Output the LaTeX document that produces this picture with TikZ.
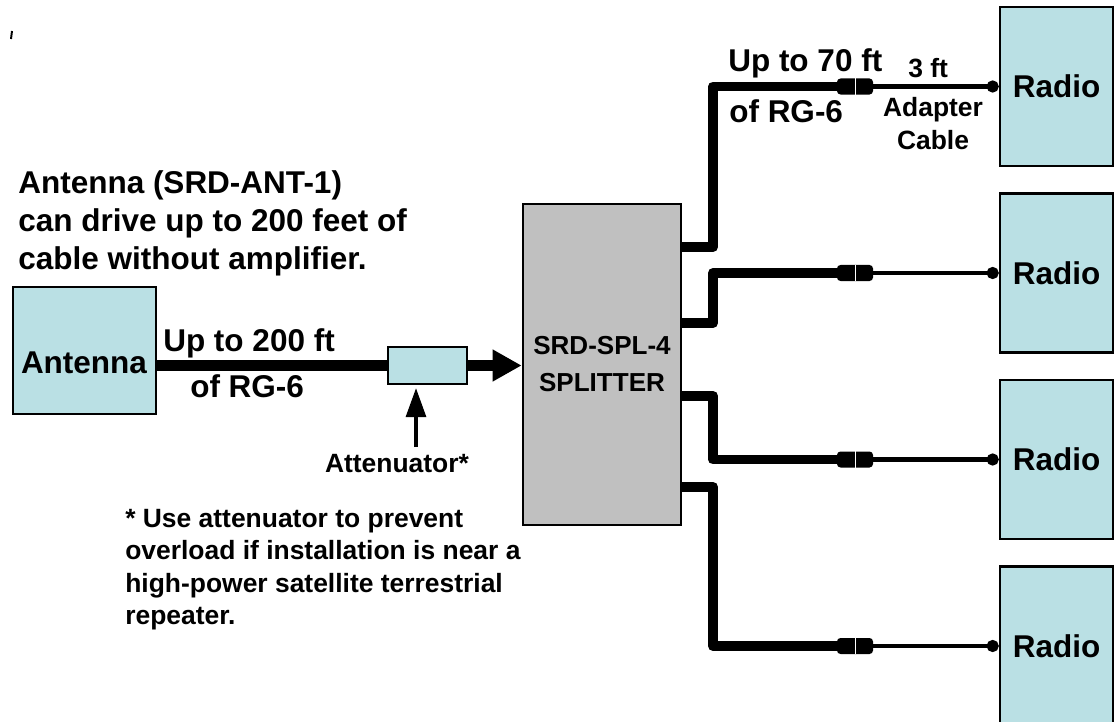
\documentclass[tikz,border=0pt]{standalone}
\usepackage{fontspec}
\setmainfont{Liberation Sans}
\usetikzlibrary{arrows.meta}
\definecolor{srd-blue}{RGB}{186,224,228}
\definecolor{srd-gray}{RGB}{192,192,192}
\newcommand{\bigtext}{\fontsize{22.4}{27}\selectfont\bfseries}
\newcommand{\smalltext}{\fontsize{18.8}{23}\selectfont\bfseries}

\begin{document}
\begin{tikzpicture}[x=0.025cm, y=-0.025cm,
    unit/.style={draw, line width=1.9pt, inner sep=0},
    cable/.style={line width=7.1pt, line join=round},
    lead/.style={line width=3.4pt, -{Circle[length=8.5pt, width=8.5pt]}},
    plug/.style={fill=black, rounded corners=2.5pt, minimum width=0.9cm,
        minimum height=0.4cm, inner sep=0},
    big/.style={font=\bigtext, inner sep=0},
    small/.style={font=\smalltext, inner sep=0}]

    \useasboundingbox (0,0) rectangle (1116,722);
    \clip (0,0) rectangle (1116,722);

    \draw[line width=1.4pt] (11,39) -- (12,31);

    % Antenna and feed cable
    \node[big, anchor=north west, align=left] (note) at (18,170.5)
        {Antenna (SRD-ANT-1)\\can drive up to 200 feet of\\cable without amplifier.};
    \node[unit, fill=srd-blue, minimum width=3.575cm, minimum height=3.175cm]
        (antenna) at (84.5,350.5) {};
    \node[big, anchor=base] (antname) at (84,373) {Antenna};
    \node[unit, fill=srd-blue, minimum width=1.975cm, minimum height=0.925cm]
        (atten) at (427.5,365.5) {};
    \node[unit, fill=srd-gray, minimum width=3.95cm, minimum height=8.025cm,
        align=center, font={\fontsize{18.5}{26.3}\selectfont\bfseries}]
        (splitter) at (602,364.5) {SRD-SPL-4\\SPLITTER};

    \draw[line width=8pt] (antenna.east |- atten.west) -- (atten.west);
    \draw[line width=8pt, -{Triangle[length=20.6pt, width=21.3pt]}]
        (atten.east) -- (splitter.west |- atten.east);
    \node[big, anchor=base west] (feedlen) at (163,351) {Up to 200 ft};
    \node[big, anchor=base west] (feedtype) at (190,397.5) {of RG-6};

    % Attenuator note
    \node[small, anchor=base] (attlabel) at (397,472) {Attenuator*};
    \coordinate (attfoot) at (416,447);
    \draw[line width=2.3pt, shorten >=2pt, -{Triangle[length=20.6pt, width=14.2pt]}]
        (attfoot) -- (attfoot |- atten.south);
    \node[small, anchor=north west, align=left] (footnote) at (125,509)
        {* Use attenuator to prevent\\overload if installation is near a\\high-power satellite terrestrial\\repeater.};

    % Radios
    \foreach \i/\y in {1/86.5, 2/273, 3/459.5, 4/646} {
        \node[unit, fill=srd-blue, minimum width=2.825cm, minimum height=3.975cm,
            font=\bigtext] (radio\i) at (1056.5,\y) {Radio};
        \node[plug] (plug\i) at (855,\y) {};
    }
    \foreach \i/\s in {1/247, 2/323, 3/396, 4/487}
        \coordinate (tap\i) at (713,\s);

    % Splitter outputs
    \foreach \i in {1,...,4} {
        \draw[cable] (splitter.east |- tap\i) -- (tap\i) |- (plug\i.west);
        \draw[lead] (plug\i.east) -- (radio\i.west);
        \draw[white, line width=0.6pt] (plug\i.north) -- (plug\i.south);
    }

    \node[big, anchor=base west] (droplen) at (728,72) {Up to 70 ft};
    \node[big, anchor=base west] (droptype) at (729,123) {of RG-6};
    \node[small, anchor=base west] (adaptlen) at (908,78) {3 ft};
    \node[small, anchor=north, align=center] (adapter) at (933,97.5)
        {Adapter\\Cable};

\end{tikzpicture}
\end{document}
